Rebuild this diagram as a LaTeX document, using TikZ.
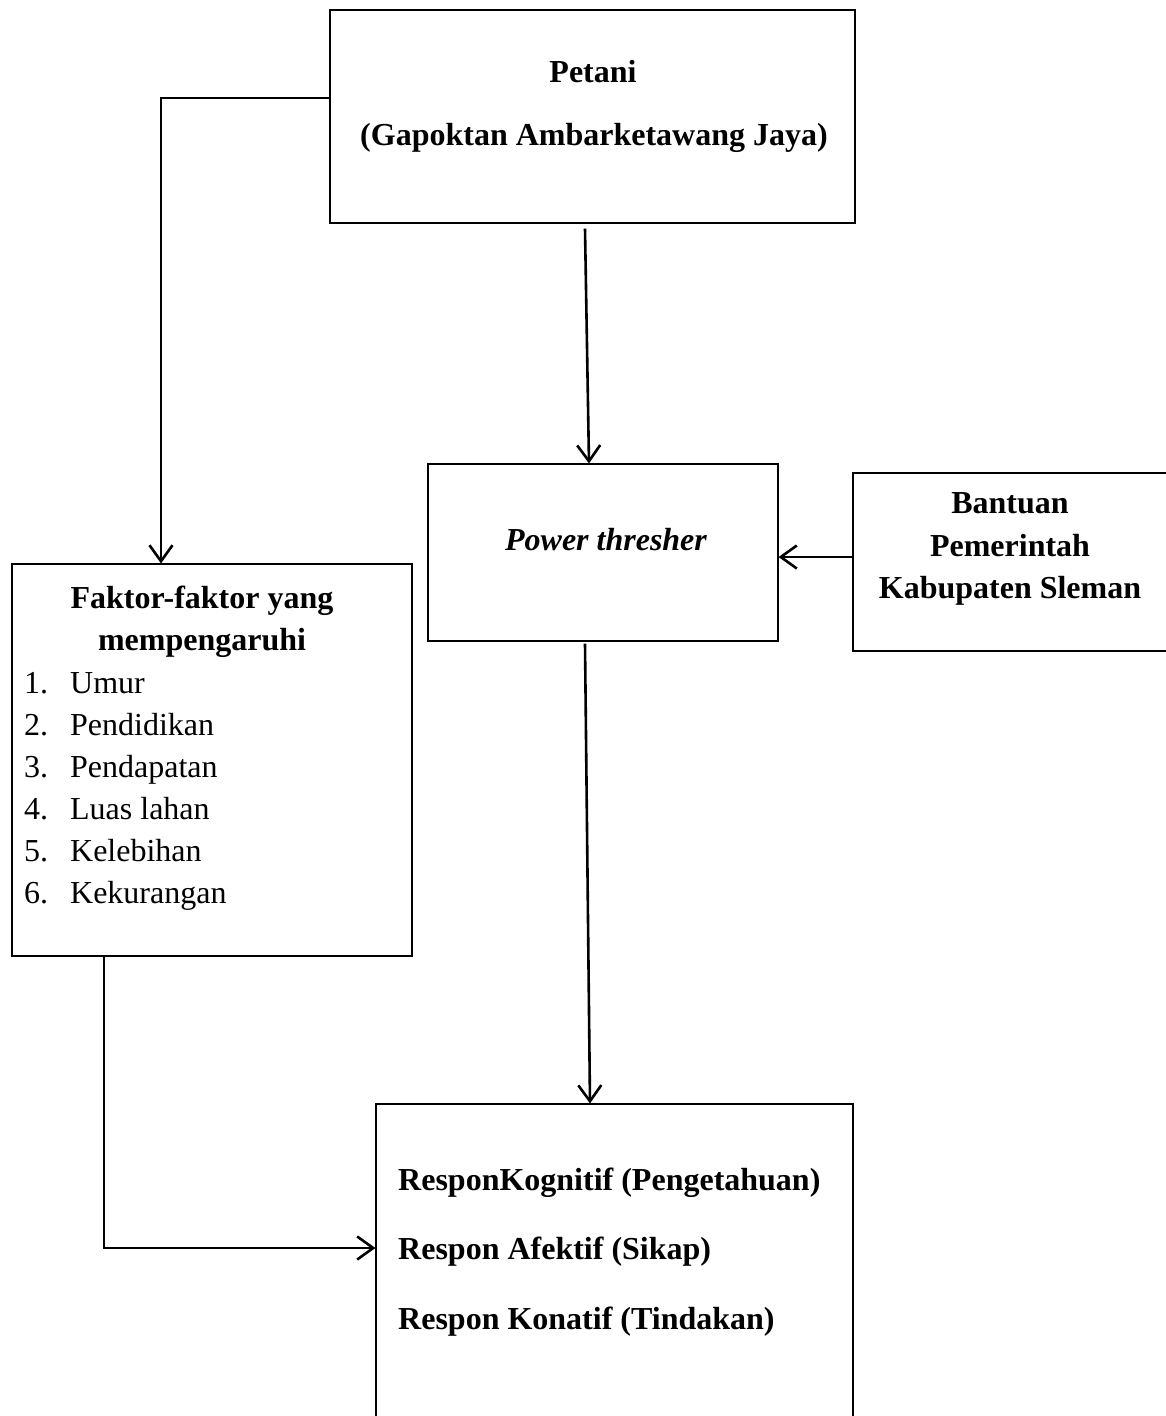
\documentclass[tikz,border=0pt]{standalone}
\usepackage{fontspec}
\setmainfont{Liberation Serif}
\usetikzlibrary{arrows.meta}
\begin{document}
\begin{tikzpicture}[x=1pt,y=-1pt,
  box/.style={draw,line width=1.1pt,inner sep=0pt},
  arr/.style={line width=2.6pt,-{Straight Barb[length=16pt,width=23pt,line width=2.6pt]}},
  txt/.style={font=\fontsize{32}{42.5}\selectfont\bfseries,inner sep=0pt,align=center},
  lst/.style={font=\fontsize{32}{42}\selectfont,inner sep=0pt,anchor=base west}]
\useasboundingbox[fill=white] (0,0) rectangle (1165,1416);
% boxes
\node[box,minimum width=525pt,minimum height=213pt] (petani) at (592.5,116.5) {};
\node[box,minimum width=350pt,minimum height=177pt] (power) at (603,552.5) {};
\node[box,minimum width=319pt,minimum height=178pt] (bantuan) at (1012.5,562) {};
\node[box,minimum width=400pt,minimum height=392pt] (faktor) at (212,760) {};
\node[box,minimum width=477pt,minimum height=320pt] (respon) at (614.5,1264) {};
% texts
\node[txt] (t1) at (593,72) {Petani};
\node[txt] (t2) at (594,138) {(Gapoktan Ambarketawang Jaya)};
\node[txt] (t3) at (606,540) {\itshape Power thresher};
\node[txt] (t4) at (1010,549) {Bantuan\\Pemerintah\\Kabupaten Sleman};
\node[txt] (t5) at (202,622) {Faktor-faktor yang\\mempengaruhi};
\node[lst] (l1) at (24,693) {\makebox[46pt][l]{1.}Umur};
\node[lst] (l2) at (24,735) {\makebox[46pt][l]{2.}Pendidikan};
\node[lst] (l3) at (24,777) {\makebox[46pt][l]{3.}Pendapatan};
\node[lst] (l4) at (24,819) {\makebox[46pt][l]{4.}Luas lahan};
\node[lst] (l5) at (24,861) {\makebox[46pt][l]{5.}Kelebihan};
\node[lst] (l6) at (24,903) {\makebox[46pt][l]{6.}Kekurangan};
\node[txt,anchor=base west] (r1) at (398,1190) {ResponKognitif (Pengetahuan)};
\node[txt,anchor=base west] (r2) at (398,1259) {Respon Afektif (Sikap)};
\node[txt,anchor=base west] (r3) at (398,1329) {Respon Konatif (Tindakan)};
% connectors
\coordinate (k1) at (161,98);
\draw[arr] (k1 -| petani.west) -- (k1) -- (k1 |- faktor.north);
\draw[arr] ([xshift=-7.5pt,yshift=-5pt]petani.south) -- ([xshift=-14pt]power.north);
\draw[arr] ([yshift=5pt]bantuan.west) -- ([yshift=5pt]bantuan.west -| power.east);
\draw[arr] ([xshift=-18pt,yshift=-2pt]power.south) -- ([xshift=-24.5pt]respon.north);
\coordinate (k2) at (104,1248);
\draw[arr] (k2 |- faktor.south) -- (k2) -- (k2 -| respon.west);
\end{tikzpicture}
\end{document}
